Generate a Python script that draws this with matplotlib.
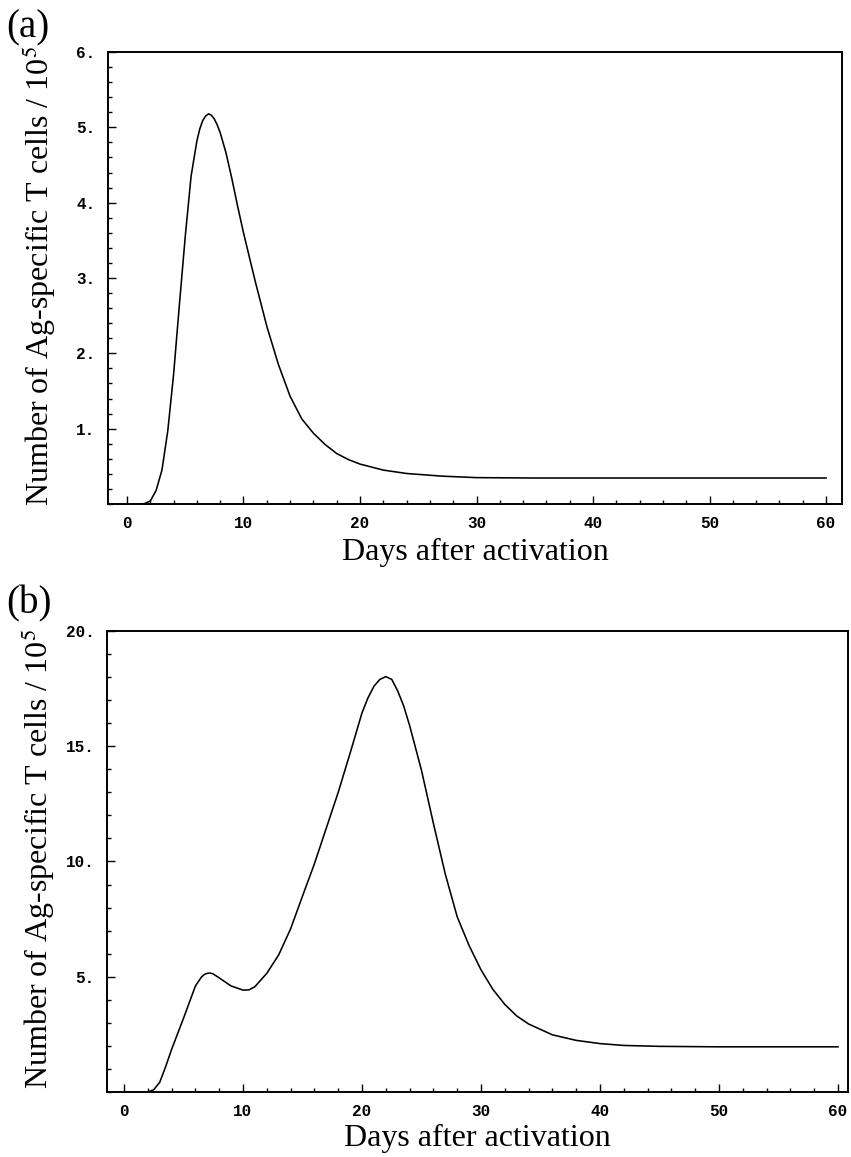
import matplotlib
matplotlib.use("Agg")
import matplotlib.pyplot as plt
from matplotlib.ticker import MultipleLocator, FixedLocator, FixedFormatter

# ---- data ----
days_a = [1.0, 1.5, 2.0, 2.5, 3.0, 3.5, 4.0, 4.5, 5.0, 5.5, 6.0, 6.25, 6.5,
          6.75, 7.0, 7.25, 7.5, 7.75, 8.0, 8.5, 9.0, 9.5, 10, 11, 12, 13, 14,
          15, 16, 17, 18, 19, 20, 22, 24, 27, 30, 35, 40, 50, 60]
cells_a = [0.0, 0.005, 0.04, 0.18, 0.45, 0.97, 1.72, 2.65, 3.55, 4.35, 4.82,
           4.98, 5.09, 5.15, 5.18, 5.16, 5.11, 5.03, 4.93, 4.66, 4.32, 3.95,
           3.60, 2.96, 2.36, 1.85, 1.43, 1.13, 0.94, 0.79, 0.67, 0.59, 0.53,
           0.45, 0.405, 0.37, 0.35, 0.345, 0.345, 0.345, 0.345]

days_b = [2.0, 2.5, 3.0, 3.5, 4.0, 5.0, 6.0, 6.5, 6.75, 7.0, 7.25, 7.5, 8.0,
          9.0, 10.0, 10.5, 11.0, 12.0, 13.0, 14.0, 15.0, 16.0, 17.0, 18.0,
          19.0, 20.0, 20.5, 21.0, 21.5, 22.0, 22.5, 23.0, 23.5, 24.0, 25.0,
          26.0, 27.0, 28.0, 29.0, 30.0, 31.0, 32.0, 33.0, 34.0, 36.0, 38.0,
          40.0, 42.0, 45.0, 50.0, 55.0, 60.0]
cells_b = [0.0, 0.1, 0.42, 1.1, 1.85, 3.2, 4.6, 4.98, 5.1, 5.15, 5.16, 5.12,
           4.95, 4.6, 4.42, 4.43, 4.57, 5.15, 5.95, 7.08, 8.5, 9.9, 11.45,
           13.0, 14.7, 16.45, 17.1, 17.6, 17.9, 18.02, 17.9, 17.4, 16.75, 15.9,
           13.95, 11.65, 9.45, 7.6, 6.35, 5.3, 4.45, 3.8, 3.3, 2.95, 2.48,
           2.24, 2.1, 2.02, 1.98, 1.96, 1.96, 1.96]

x_ticks = [0, 10, 20, 30, 40, 50, 60]
x_ticklabels = ["0", "10", "20", "30", "40", "50", "60"]
y_ticks_a = [1, 2, 3, 4, 5, 6]
y_ticklabels_a = ["1.", "2.", "3.", "4.", "5.", "6."]
y_ticks_b = [5, 10, 15, 20]
y_ticklabels_b = ["5.", "10.", "15.", "20."]

xlabel = "Days after activation"
ylabel = "Number of Ag-specific T cells / 10$^5$"
panel_labels = ["(a)", "(b)"]

plt.rcParams["mathtext.fontset"] = "stix"
serif = "Liberation Serif"
mono = "Liberation Mono"

W, H = 851, 1157
fig = plt.figure(figsize=(W / 100, H / 100), dpi=100)


def make_axes(l, r, t, b):
    return fig.add_axes([l / W, 1 - b / H, (r - l) / W, (b - t) / H])


ax_a = make_axes(108, 842, 52, 504)
ax_b = make_axes(107, 848, 631, 1092)

specs = [
    (ax_a, days_a, cells_a, (-1.63, 61.37), (0, 6), y_ticks_a, y_ticklabels_a, 0.2, -0.075),
    (ax_b, days_b, cells_b, (-1.43, 60.84), (0, 20), y_ticks_b, y_ticklabels_b, 1.0, -0.069),
]

for ax, xs, ys, xl, yl, yt, ytl, yminor, xlab_y in specs:
    ax.plot(xs, ys, color="black", lw=1.15, solid_joinstyle="round")
    ax.set_xlim(*xl)
    ax.set_ylim(*yl)
    ax.xaxis.set_major_locator(FixedLocator(x_ticks))
    ax.xaxis.set_major_formatter(FixedFormatter(x_ticklabels))
    ax.xaxis.set_minor_locator(MultipleLocator(2))
    ax.yaxis.set_major_locator(FixedLocator(yt))
    ax.yaxis.set_major_formatter(FixedFormatter(ytl))
    ax.yaxis.set_minor_locator(MultipleLocator(yminor))
    ax.tick_params(which="both", direction="in", top=False, right=False,
                   color="black", width=1.0)
    ax.tick_params(which="major", length=6)
    ax.tick_params(which="minor", length=3)
    ax.tick_params(axis="x", which="major", pad=9)
    ax.tick_params(axis="y", which="major", pad=9)
    for lab in ax.get_xticklabels() + ax.get_yticklabels():
        lab.set_fontfamily(mono)
        lab.set_fontsize(11.5)
        lab.set_fontweight("bold")
    for s in ax.spines.values():
        s.set_linewidth(1.4)
        s.set_color("black")
    ax.set_xlabel(xlabel, fontfamily=serif, fontsize=23)
    ax.xaxis.set_label_coords(0.5, xlab_y)
    ax.xaxis.label.set_verticalalignment("top")
    ax.set_ylabel(ylabel, fontfamily=serif, fontsize=23)
    ax.yaxis.set_label_coords(-0.068, 0.505)

fig.text(6 / W, 1 - 28 / H, panel_labels[0], fontfamily=serif, fontsize=28,
         ha="left", va="center")
fig.text(6 / W, 1 - 604 / H, panel_labels[1], fontfamily=serif, fontsize=28,
         ha="left", va="center")

fig.savefig("out.png", dpi=100)
